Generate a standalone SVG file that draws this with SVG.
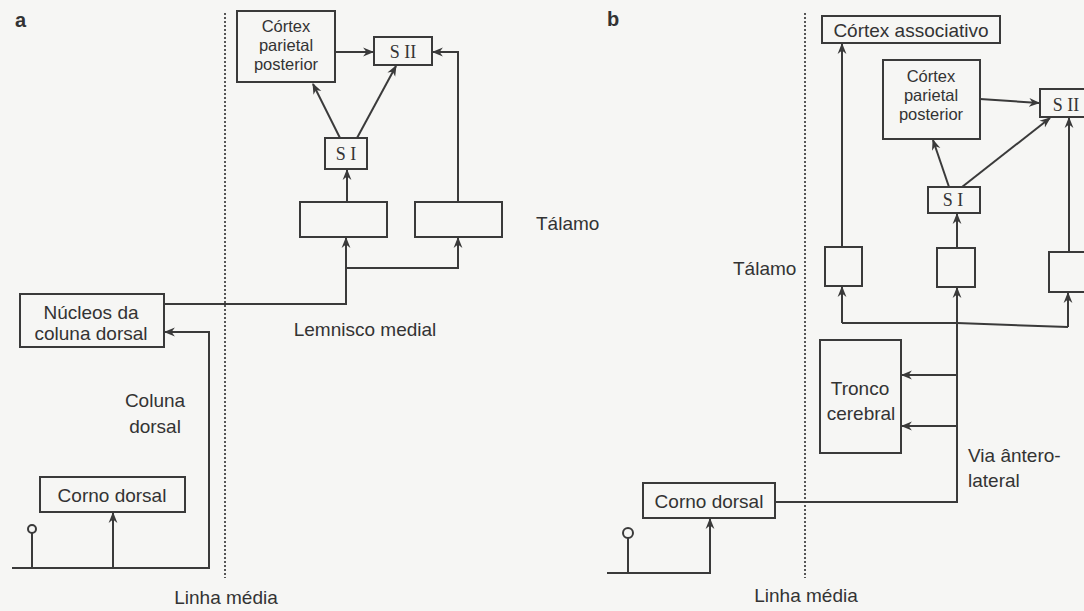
<svg xmlns="http://www.w3.org/2000/svg" width="1084" height="611" viewBox="0 0 1084 611">
<style>
.box{fill:none;stroke:#3a3a3a;stroke-width:2}
.ln{fill:none;stroke:#3a3a3a;stroke-width:2}
.arr{marker-end:url(#ah)}
.mid{fill:none;stroke:#555;stroke-width:2;stroke-dasharray:2 2}
.t{font-family:"Liberation Sans",Arial,sans-serif;font-size:19px;fill:#333}
.sm{font-size:16.5px}
.c{text-anchor:middle}
.s{font-family:"Liberation Serif","Times New Roman",serif;font-size:18px;fill:#333;text-anchor:middle}
.lbl{font-family:"Liberation Sans",Arial,sans-serif;font-size:20px;font-weight:bold;fill:#333}
</style>
<defs>
<marker id="ah" viewBox="0 0 10 10" refX="9" refY="5" markerWidth="11" markerHeight="11" markerUnits="userSpaceOnUse" orient="auto">
<path d="M0,1 L10,5 L0,9 L3,5 z" fill="#3a3a3a"/>
</marker>
</defs>
<rect width="1084" height="611" fill="#f6f6f4"/>

<text class="lbl" x="15" y="27">a</text>
<text class="lbl" x="607" y="26">b</text>

<g id="midlines">
<line class="mid" x1="225" y1="13" x2="225" y2="578"/>
<line class="mid" x1="805" y1="13" x2="805" y2="578"/>
<text class="t c" x="226" y="604">Linha média</text>
<text class="t c" x="806" y="602">Linha média</text>
</g>

<g id="connectors">
<!-- panel a -->
<line class="ln arr" x1="335" y1="52" x2="373" y2="52"/>
<line class="ln arr" x1="340" y1="138" x2="313" y2="84"/>
<line class="ln arr" x1="357" y1="138" x2="396" y2="66"/>
<line class="ln arr" x1="347" y1="202" x2="347" y2="170"/>
<polyline class="ln arr" points="458,202 458,52 433,52"/>
<polyline class="ln arr" points="164,304 346,304 346,238"/>
<polyline class="ln arr" points="346,268 458,268 458,238"/>
<polyline class="ln arr" points="12,568 209,568 209,332 165,332"/>
<line class="ln arr" x1="113" y1="568" x2="113" y2="513"/>
<line class="ln" x1="32" y1="568" x2="32" y2="533"/>
<circle class="ln" cx="32" cy="529" r="4"/>
<!-- panel b -->
<line class="ln arr" x1="980" y1="99" x2="1039" y2="103"/>
<line class="ln arr" x1="949" y1="187" x2="933" y2="140"/>
<line class="ln arr" x1="962" y1="187" x2="1050" y2="118"/>
<line class="ln arr" x1="957" y1="248" x2="957" y2="214"/>
<line class="ln arr" x1="842" y1="247" x2="842" y2="44"/>
<line class="ln arr" x1="1069" y1="252" x2="1069" y2="118"/>
<polyline class="ln arr" points="775,502 957,502 957,288"/>
<polyline class="ln" points="842,323 957,323 1068,327"/>
<line class="ln arr" x1="842" y1="323" x2="842" y2="287"/>
<line class="ln arr" x1="1068" y1="327" x2="1068" y2="293"/>
<line class="ln arr" x1="957" y1="375" x2="902" y2="375"/>
<line class="ln arr" x1="957" y1="426" x2="902" y2="426"/>
<polyline class="ln arr" points="607,573 710,573 710,519"/>
<line class="ln" x1="628" y1="573" x2="628" y2="538"/>
<circle class="ln" cx="628" cy="533" r="5"/>
</g>

<!-- panel a nodes -->
<g id="a-cortex-parietal">
<rect class="box" x="237" y="11" width="98" height="71"/>
<text class="t sm c" x="286" y="32">Córtex</text>
<text class="t sm c" x="286" y="51">parietal</text>
<text class="t sm c" x="286" y="70">posterior</text>
</g>
<g id="a-sii">
<rect class="box" x="374" y="37" width="58" height="28"/>
<text class="s" x="403" y="58">S II</text>
</g>
<g id="a-si">
<rect class="box" x="325" y="138" width="42" height="31"/>
<text class="s" x="346" y="160">S I</text>
</g>
<g id="a-talamo-1">
<rect class="box" x="300" y="202" width="87" height="35"/>
</g>
<g id="a-talamo-2">
<rect class="box" x="415" y="202" width="87" height="35"/>
<text class="t" x="536" y="230">Tálamo</text>
</g>
<g id="a-nucleos">
<rect class="box" x="20" y="294" width="144" height="53"/>
<text class="t c" x="91" y="319">Núcleos da</text>
<text class="t c" x="91" y="340">coluna dorsal</text>
</g>
<g id="a-labels">
<text class="t c" x="365" y="336">Lemnisco medial</text>
<text class="t c" x="155" y="407">Coluna</text>
<text class="t c" x="155" y="433">dorsal</text>
</g>
<g id="a-corno">
<rect class="box" x="40" y="477" width="145" height="35"/>
<text class="t c" x="112" y="502">Corno dorsal</text>
</g>

<!-- panel b nodes -->
<g id="b-cortex-assoc">
<rect class="box" x="822" y="16" width="178" height="27"/>
<text class="t c" x="911" y="37">Córtex associativo</text>
</g>
<g id="b-cortex-parietal">
<rect class="box" x="883" y="60" width="97" height="79"/>
<text class="t sm c" x="931" y="82">Córtex</text>
<text class="t sm c" x="931" y="101">parietal</text>
<text class="t sm c" x="931" y="120">posterior</text>
</g>
<g id="b-sii">
<rect class="box" x="1040" y="89" width="56" height="28"/>
<text class="s" x="1066" y="111">S II</text>
</g>
<g id="b-si">
<rect class="box" x="928" y="187" width="52" height="26"/>
<text class="s" x="953" y="206">S I</text>
</g>
<g id="b-talamo">
<text class="t" x="733" y="275">Tálamo</text>
<rect class="box" x="825" y="247" width="37" height="39"/>
<rect class="box" x="937" y="248" width="38" height="39"/>
<rect class="box" x="1049" y="252" width="40" height="40"/>
</g>
<g id="b-tronco">
<rect class="box" x="820" y="340" width="81" height="113"/>
<text class="t c" x="860" y="395">Tronco</text>
<text class="t c" x="861" y="420">cerebral</text>
</g>
<g id="b-via">
<text class="t" x="968" y="462">Via ântero-</text>
<text class="t" x="968" y="487">lateral</text>
</g>
<g id="b-corno">
<rect class="box" x="643" y="483" width="132" height="35"/>
<text class="t c" x="709" y="508">Corno dorsal</text>
</g>
</svg>
